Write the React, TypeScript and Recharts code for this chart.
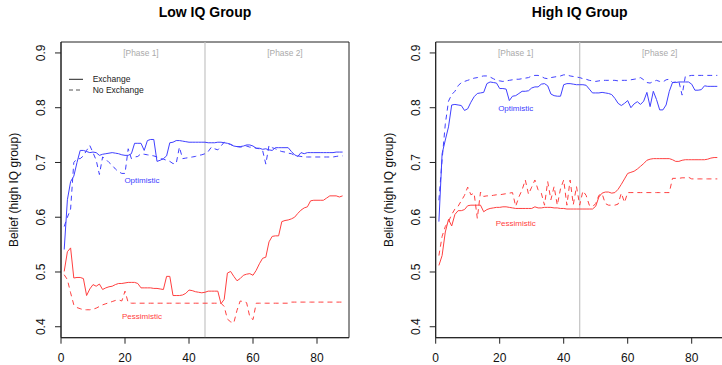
import React from "react";
import {
  LineChart,
  Line,
  XAxis,
  YAxis,
  ReferenceLine,
  ReferenceArea,
  ReferenceDot,
  Legend,
} from "recharts";

const FONT = '"Liberation Sans", Arial, Helvetica, sans-serif';
const BLUE = "#4040ff";
const RED = "#ff4040";
const INK = "#111";

// Trading rounds 1..88
const rounds = Array.from({ length: 88 }, (_, i) => i + 1);

const xTicks = [0, 20, 40, 60, 80];
const yTicks = [0.4, 0.5, 0.6, 0.7, 0.8, 0.9];
const groupTitles = ["Low IQ Group", "High IQ Group"];
const yTitle = "Belief (high IQ group)";
const phaseLabels = ["[Phase 1]", "[Phase 2]"];
const seriesLabels = ["Optimistic", "Pessimistic"];
const legendLabels = ["Exchange", "No Exchange"];

// Low IQ group
const lowOptEx = [
  0.541, 0.632, 0.665, 0.675, 0.7, 0.722, 0.722, 0.72, 0.718, 0.719,
  0.718, 0.713, 0.715, 0.716, 0.717, 0.718, 0.717, 0.716, 0.714, 0.713,
  0.713, 0.716, 0.735, 0.735, 0.735, 0.722, 0.74, 0.742, 0.742, 0.702,
  0.704, 0.707, 0.712, 0.736, 0.737, 0.74, 0.74, 0.739, 0.738, 0.737,
  0.737, 0.737, 0.737, 0.737, 0.737, 0.736, 0.736, 0.736, 0.737, 0.737,
  0.736, 0.735, 0.733, 0.73, 0.729, 0.729, 0.73, 0.732, 0.732, 0.73,
  0.726, 0.726, 0.724, 0.725, 0.723, 0.722, 0.727, 0.727, 0.727, 0.727,
  0.727, 0.72, 0.714, 0.711, 0.718, 0.716, 0.718, 0.718, 0.718, 0.718,
  0.718, 0.718, 0.718, 0.718, 0.718, 0.719, 0.719, 0.719,
];
const lowOptNo = [
  0.583, 0.6, 0.615, 0.7, 0.707, 0.707, 0.712, 0.722, 0.731, 0.718,
  0.704, 0.678, 0.71, 0.706, 0.7, 0.695, 0.688, 0.683, 0.68, 0.68,
  0.725, 0.707, 0.71, 0.711, 0.716, 0.715, 0.714, 0.713, 0.712, 0.71,
  0.707, 0.706, 0.704, 0.702, 0.698, 0.698, 0.728, 0.707, 0.708, 0.709,
  0.71, 0.711, 0.713, 0.714, 0.716, 0.72, 0.728, 0.725, 0.723, 0.73,
  0.737, 0.735, 0.733, 0.73, 0.729, 0.728, 0.729, 0.73, 0.728, 0.728,
  0.726, 0.725, 0.722, 0.697, 0.731, 0.727, 0.725, 0.722, 0.72, 0.719,
  0.717, 0.716, 0.713, 0.712, 0.711, 0.71, 0.71, 0.71, 0.71, 0.71,
  0.71, 0.71, 0.71, 0.71, 0.71, 0.711, 0.712, 0.712,
];
const lowPesEx = [
  0.501, 0.537, 0.544, 0.489, 0.49, 0.49, 0.488, 0.457, 0.469, 0.477,
  0.474, 0.478, 0.468, 0.471, 0.473, 0.474, 0.477, 0.479, 0.479, 0.48,
  0.481, 0.481, 0.481, 0.479, 0.471, 0.471, 0.471, 0.471, 0.47, 0.47,
  0.469, 0.468, 0.492, 0.492, 0.457, 0.457, 0.457, 0.458, 0.461, 0.467,
  0.466, 0.464, 0.463, 0.462, 0.463, 0.465, 0.465, 0.465, 0.465, 0.442,
  0.45, 0.498, 0.501, 0.492, 0.484, 0.488, 0.494, 0.496, 0.497, 0.494,
  0.503, 0.515, 0.525, 0.527, 0.555, 0.565, 0.566, 0.566, 0.592, 0.594,
  0.595, 0.597, 0.6, 0.607, 0.613, 0.617, 0.619, 0.63, 0.631, 0.631,
  0.631, 0.631, 0.635, 0.639, 0.639, 0.639, 0.637, 0.639,
];
const lowPesNo = [
  0.495, 0.486, 0.462, 0.44, 0.435, 0.433, 0.431, 0.431, 0.431, 0.432,
  0.434, 0.437, 0.44, 0.442, 0.444, 0.446, 0.448, 0.449, 0.447, 0.465,
  0.444, 0.443, 0.443, 0.443, 0.443, 0.443, 0.443, 0.443, 0.443, 0.443,
  0.443, 0.443, 0.443, 0.443, 0.443, 0.443, 0.443, 0.443, 0.443, 0.443,
  0.443, 0.443, 0.443, 0.443, 0.443, 0.443, 0.443, 0.443, 0.443, 0.443,
  0.437, 0.414, 0.409, 0.407, 0.43, 0.447, 0.446, 0.444, 0.418, 0.413,
  0.443, 0.443, 0.443, 0.443, 0.443, 0.443, 0.443, 0.443, 0.443, 0.443,
  0.443, 0.445, 0.445, 0.445, 0.445, 0.445, 0.445, 0.445, 0.445, 0.445,
  0.445, 0.445, 0.445, 0.445, 0.445, 0.445, 0.445, 0.445,
];

// High IQ group
const highOptEx = [
  0.592, 0.716, 0.741, 0.765, 0.805, 0.806, 0.805, 0.804, 0.795, 0.798,
  0.81, 0.82, 0.826, 0.827, 0.828, 0.844, 0.847, 0.846, 0.845, 0.835,
  0.835, 0.834, 0.813, 0.821, 0.822, 0.826, 0.83, 0.83, 0.831, 0.836,
  0.838, 0.838, 0.843, 0.844, 0.84, 0.825, 0.822, 0.821, 0.821, 0.842,
  0.844, 0.844, 0.843, 0.842, 0.842, 0.842, 0.841, 0.834, 0.827, 0.827,
  0.827, 0.828, 0.827, 0.826, 0.824, 0.817, 0.808, 0.804, 0.808, 0.813,
  0.8, 0.807, 0.811, 0.806, 0.812, 0.828, 0.802, 0.83, 0.815, 0.796,
  0.796, 0.805, 0.83, 0.846, 0.846, 0.847, 0.847, 0.847, 0.847, 0.843,
  0.832, 0.832, 0.833, 0.84, 0.839, 0.839, 0.839, 0.839,
];
const highOptNo = [
  0.631, 0.705, 0.77, 0.812, 0.824, 0.83, 0.84, 0.846, 0.848, 0.85,
  0.852, 0.854, 0.855, 0.857, 0.858, 0.858, 0.856, 0.853, 0.85, 0.849,
  0.848, 0.849, 0.85, 0.851, 0.852, 0.852, 0.853, 0.854, 0.855, 0.858,
  0.859, 0.859, 0.857, 0.854, 0.853, 0.855, 0.856, 0.857, 0.858, 0.86,
  0.86, 0.858, 0.857, 0.856, 0.855, 0.853, 0.852, 0.85, 0.849, 0.848,
  0.849, 0.85, 0.85, 0.85, 0.85, 0.85, 0.849, 0.85, 0.85, 0.85,
  0.851, 0.852, 0.853, 0.855, 0.851, 0.846, 0.845, 0.848, 0.85, 0.848,
  0.847, 0.851, 0.852, 0.846, 0.847, 0.848, 0.823, 0.857, 0.858, 0.859,
  0.859, 0.859, 0.859, 0.859, 0.859, 0.859, 0.859, 0.859,
];
const highPesEx = [
  0.512, 0.53, 0.573, 0.596, 0.584, 0.605, 0.612, 0.612, 0.614, 0.621,
  0.622, 0.622, 0.622, 0.622, 0.61, 0.614, 0.616, 0.617, 0.618, 0.618,
  0.619, 0.619, 0.618, 0.617, 0.616, 0.616, 0.616, 0.616, 0.616, 0.616,
  0.619, 0.617, 0.617, 0.618, 0.618, 0.618, 0.617, 0.617, 0.616, 0.616,
  0.615, 0.615, 0.615, 0.615, 0.615, 0.615, 0.615, 0.615, 0.615, 0.62,
  0.637, 0.644, 0.646, 0.646, 0.644, 0.645, 0.651, 0.66, 0.67, 0.68,
  0.682, 0.684, 0.688, 0.693, 0.698, 0.704, 0.706, 0.707, 0.707, 0.707,
  0.707, 0.707, 0.707, 0.705, 0.702, 0.702, 0.704, 0.705, 0.705, 0.705,
  0.705, 0.705, 0.705, 0.705, 0.706, 0.708, 0.709, 0.709,
];
const highPesNo = [
  0.53, 0.565, 0.583, 0.592, 0.605, 0.615, 0.62, 0.63, 0.64, 0.655,
  0.641, 0.644, 0.598, 0.646, 0.638, 0.639, 0.639, 0.64, 0.641, 0.641,
  0.642, 0.643, 0.644, 0.645, 0.62, 0.637, 0.65, 0.668, 0.642, 0.655,
  0.668, 0.65, 0.644, 0.622, 0.665, 0.632, 0.656, 0.622, 0.652, 0.668,
  0.622, 0.668, 0.623, 0.656, 0.622, 0.648, 0.64, 0.622, 0.619, 0.625,
  0.64, 0.643, 0.625, 0.622, 0.622, 0.622, 0.624, 0.644, 0.627, 0.645,
  0.645, 0.645, 0.645, 0.645, 0.645, 0.645, 0.645, 0.645, 0.645, 0.645,
  0.645, 0.645, 0.645, 0.671, 0.671, 0.671, 0.672, 0.672, 0.673, 0.67,
  0.67, 0.67, 0.67, 0.67, 0.67, 0.67, 0.67, 0.67,
];

type Row = { round: number; optEx: number; optNo: number; pesEx: number; pesNo: number };

function buildRows(optEx: number[], optNo: number[], pesEx: number[], pesNo: number[]): Row[] {
  return rounds.map((r, i) => ({
    round: r,
    optEx: optEx[i],
    optNo: optNo[i],
    pesEx: pesEx[i],
    pesNo: pesNo[i],
  }));
}

const lowRows = buildRows(lowOptEx, lowOptNo, lowPesEx, lowPesNo);
const highRows = buildRows(highOptEx, highOptNo, highPesEx, highPesNo);

const XTick = (props: any) => {
  const { x, y, payload } = props;
  return (
    <text x={x} y={y + 18.4} textAnchor="middle" fontSize={12} fill={INK} fontFamily={FONT}>
      {payload.value}
    </text>
  );
};

const YTick = (props: any) => {
  const { x, y, payload } = props;
  const bx = x - 10;
  return (
    <text
      x={bx}
      y={y}
      transform={`rotate(-90 ${bx} ${y})`}
      textAnchor="middle"
      fontSize={12}
      fill={INK}
      fontFamily={FONT}
    >
      {Number(payload.value).toFixed(1)}
    </text>
  );
};

const YTitle = (props: any) => {
  const vb = props.viewBox || {};
  const axisX = (vb.x ?? 0) + (vb.width ?? 0);
  const cx = axisX - 43;
  const cy = (vb.y ?? 0) + (vb.height ?? 0) / 2;
  return (
    <text
      x={cx}
      y={cy}
      transform={`rotate(-90 ${cx} ${cy})`}
      textAnchor="middle"
      fontSize={12}
      fill={INK}
      fontFamily={FONT}
    >
      {yTitle}
    </text>
  );
};

const LineKey = () => (
  <svg width={100} height={26} style={{ display: "block" }}>
    <line x1={3} x2={17} y1={7.3} y2={7.3} stroke="#222" strokeWidth={1} />
    <text x={26.7} y={10.3} fontSize={8.5} fill="#222" fontFamily={FONT}>
      {legendLabels[0]}
    </text>
    <line x1={3} x2={17} y1={18} y2={18} stroke="#555" strokeWidth={1} strokeDasharray="4 3" />
    <text x={26.7} y={21} fontSize={8.5} fill="#222" fontFamily={FONT}>
      {legendLabels[1]}
    </text>
  </svg>
);

type PanelProps = {
  rows: Row[];
  left: number;
  width: number;
  axisWidth: number;
  optAt: [number, number];
  pesAt: [number, number];
  showKey: boolean;
};

function Panel({ rows, left, width, axisWidth, optAt, pesAt, showKey }: PanelProps) {
  const plotWidth = 288;
  const marginRight = width - axisWidth - plotWidth;
  const textLabel = (value: string, fill: string, fontSize: number) => ({
    value,
    position: "center" as const,
    fill,
    fontSize,
    fontFamily: FONT,
  });
  return (
    <div style={{ position: "absolute", left, top: 0 }}>
      <LineChart
        width={width}
        height={365}
        data={rows}
        margin={{ top: 42, right: marginRight, bottom: 0, left: 0 }}
      >
        <XAxis
          dataKey="round"
          type="number"
          domain={[0, 90]}
          ticks={xTicks}
          interval={0}
          height={27.3}
          tickSize={6}
          tickMargin={0}
          stroke="#222"
          tick={<XTick />}
        />
        <YAxis
          type="number"
          domain={[0.38, 0.92]}
          ticks={yTicks}
          interval={0}
          width={axisWidth}
          tickSize={6}
          tickMargin={0}
          stroke="#222"
          tick={<YTick />}
          label={{ content: (p: any) => <YTitle {...p} /> }}
        />
        <ReferenceLine x={45} stroke="#c4c4c4" strokeWidth={1.2} />
        <ReferenceDot x={25} y={0.9} r={0} fill="none" stroke="none" label={textLabel(phaseLabels[0], "#aaaaaa", 8.4)} />
        <ReferenceDot x={70} y={0.9} r={0} fill="none" stroke="none" label={textLabel(phaseLabels[1], "#aaaaaa", 8.4)} />
        <Line type="linear" dataKey="optEx" stroke={BLUE} strokeWidth={1} dot={false} activeDot={false} isAnimationActive={false} />
        <Line type="linear" dataKey="optNo" stroke={BLUE} strokeWidth={1} strokeDasharray="5 4" dot={false} activeDot={false} isAnimationActive={false} />
        <Line type="linear" dataKey="pesEx" stroke={RED} strokeWidth={1} dot={false} activeDot={false} isAnimationActive={false} />
        <Line type="linear" dataKey="pesNo" stroke={RED} strokeWidth={1} strokeDasharray="5 4" dot={false} activeDot={false} isAnimationActive={false} />
        <ReferenceDot x={optAt[0]} y={optAt[1]} r={0} fill="none" stroke="none" label={textLabel(seriesLabels[0], BLUE, 8)} />
        <ReferenceDot x={pesAt[0]} y={pesAt[1]} r={0} fill="none" stroke="none" label={textLabel(seriesLabels[1], RED, 8)} />
        <ReferenceArea x1={0} x2={90} y1={0.38} y2={0.92} fill="none" stroke="#222" strokeWidth={1} ifOverflow="visible" />
        {showKey && (
          <Legend
            layout="vertical"
            align="center"
            verticalAlign="middle"
            content={() => <LineKey />}
            wrapperStyle={{ position: "absolute", left: 66, top: 72, width: 100, height: 26 }}
          />
        )}
      </LineChart>
    </div>
  );
}

export default function App() {
  return (
    <div
      style={{
        position: "absolute",
        left: 0,
        top: 0,
        width: 722,
        height: 365,
        overflow: "hidden",
        background: "#fff",
        fontFamily: FONT,
      }}
    >
      <Panel rows={lowRows} left={0} width={361} axisWidth={61} optAt={[25.3, 0.668]} pesAt={[25.3, 0.42]} showKey />
      <Panel rows={highRows} left={361} width={370} axisWidth={74.7} optAt={[25, 0.8]} pesAt={[25, 0.59]} showKey={false} />
      <svg width={722} height={365} style={{ position: "absolute", left: 0, top: 0, pointerEvents: "none" }}>
        <text x={205} y={17.3} textAnchor="middle" fontSize={14} fontWeight="bold" fill="#000" fontFamily={FONT}>
          {groupTitles[0]}
        </text>
        <text x={579.7} y={17.3} textAnchor="middle" fontSize={14} fontWeight="bold" fill="#000" fontFamily={FONT}>
          {groupTitles[1]}
        </text>
      </svg>
    </div>
  );
}
